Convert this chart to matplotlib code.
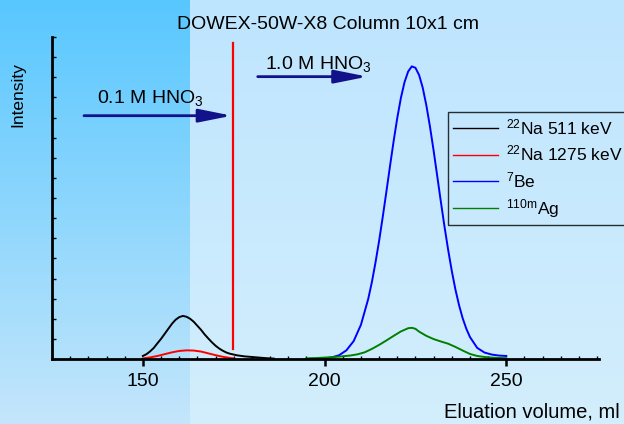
import numpy as np
import matplotlib
matplotlib.use("Agg")
import matplotlib.pyplot as plt

plt.rcParams['font.family'] = ['Liberation Sans', 'DejaVu Sans']
plt.rcParams['mathtext.fontset'] = 'custom'
plt.rcParams['mathtext.rm'] = 'Liberation Sans'
plt.rcParams['mathtext.it'] = 'Liberation Sans:italic'

# ---- data ----
na511_x = [150, 151, 152, 153, 154, 155, 156, 157, 158, 159, 160, 161, 162, 163, 164, 165,
           166, 167, 168, 169, 170, 171, 172, 173, 174, 175, 176, 178, 180, 182, 184, 186]
na511_y = [0.15, 0.24, 0.38, 0.55, 0.78, 1.0, 1.25, 1.5, 1.75, 1.95, 2.08, 2.14, 2.1, 2.0, 1.85, 1.65,
           1.45, 1.22, 1.02, 0.83, 0.66, 0.52, 0.41, 0.32, 0.26, 0.22, 0.18, 0.13, 0.1, 0.07, 0.04, 0.02]

na1275_x = [150, 152, 154, 156, 158, 160, 162, 164, 166, 168, 170, 172, 174, 175]
na1275_y = [0.03, 0.08, 0.15, 0.24, 0.33, 0.40, 0.43, 0.42, 0.37, 0.28, 0.19, 0.11, 0.05, 0.03]

be7_x = [196, 198, 200, 202, 204, 206, 208, 210, 212, 213, 214, 215, 216, 217, 218, 219, 220,
         221, 222, 223, 224, 225, 226, 227, 228, 229, 230, 231, 232, 233, 234, 235, 236, 237,
         238, 239, 240, 242, 244, 246, 248, 250]
be7_y = [0.01, 0.01, 0.03, 0.08, 0.19, 0.43, 0.89, 1.70, 2.98, 3.81, 4.79, 5.87, 7.06, 8.31, 9.59,
         10.83, 11.98, 12.98, 13.76, 14.29, 14.54, 14.47, 14.11, 13.48, 12.6, 11.54, 10.35, 9.08,
         7.8, 6.57, 5.42, 4.37, 3.45, 2.67, 2.02, 1.5, 1.09, 0.55, 0.32, 0.22, 0.17, 0.15]

ag110m_x = [195, 198, 201, 204, 207, 209, 211, 213, 215, 217, 219, 221, 223, 224, 225, 226,
            228, 230, 232, 234, 236, 238, 240, 242, 244, 246, 248, 250]
ag110m_y = [0.03, 0.05, 0.08, 0.12, 0.17, 0.23, 0.33, 0.5, 0.7, 0.92, 1.15, 1.37, 1.53, 1.55,
            1.5, 1.36, 1.15, 0.99, 0.87, 0.76, 0.6, 0.42, 0.25, 0.15, 0.1, 0.07, 0.05, 0.04]

switch_x = [174.7, 174.7]
switch_y = [0.5, 15.7]

labels = [r'$^{22}$Na 511 keV', r'$^{22}$Na 1275 keV', r'$^{7}$Be', r'$^{\mathrm{110m}}$Ag']
x_ticks = [150, 200, 250]
title = 'DOWEX-50W-X8 Column 10x1 cm'
xlabel = 'Eluation volume, ml'
ylabel = 'Intensity'

W, H = 624, 424
fig = plt.figure(figsize=(W / 100, H / 100), dpi=100)

# ---- background (slide-like) ----
bg = fig.add_axes([0, 0, 1, 1], zorder=-10)
img = np.zeros((H, W, 3))
t = np.linspace(0, 1, H)[:, None]
left_top = np.array([88, 199, 255]) / 255
left_bot = np.array([196, 230, 251]) / 255
right_top = np.array([190, 229, 255]) / 255
right_bot = np.array([211, 238, 252]) / 255
lcol = left_top * (1 - t) + left_bot * t
rcol = right_top * (1 - t) + right_bot * t
split = 190
img[:, :split, :] = lcol[:, None, :]
img[:, split:, :] = rcol[:, None, :]
bg.imshow(img, aspect='auto', extent=[0, 1, 0, 1], interpolation='bilinear')
bg.axis('off')

ax = fig.add_axes([52 / W, 1 - 359 / H, (599 - 52) / W, (359 - 37) / H])
ax.set_facecolor('none')

lw = 1.4
ax.plot(na511_x, na511_y, color='black', lw=lw, label=labels[0])
ax.plot(na1275_x, na1275_y, color='#ff0000', lw=lw, label=labels[1])
ax.plot(be7_x, be7_y, color='#0000ff', lw=lw, label=labels[2])
ax.plot(ag110m_x, ag110m_y, color='#008000', lw=lw, label=labels[3])
ax.plot(switch_x, switch_y, color='#ff0000', lw=1.6)

ax.set_xlim(125, 275.5)
ax.set_ylim(0, 16)

for s in ['top', 'right']:
    ax.spines[s].set_visible(False)
for s in ['left', 'bottom']:
    ax.spines[s].set_linewidth(2.0)

ax.set_xticks(x_ticks)
ax.set_xticklabels([str(v) for v in x_ticks], fontsize=14)
ax.set_xticks(np.arange(125, 276, 5), minor=True)
ax.tick_params(axis='x', which='major', direction='out', length=5, width=1.8, pad=5)
ax.tick_params(axis='x', which='minor', direction='in', length=2.5, width=1)
ax.set_yticks(np.arange(0, 17, 1))
ax.set_yticklabels([])
ax.tick_params(axis='y', which='major', direction='in', length=3, width=1)

# arrows & eluent labels
arrow_col = '#12128a'
ax.annotate('', xy=(174.5, 12.09), xytext=(133.8, 12.09),
            arrowprops=dict(arrowstyle='-|>,head_length=1.0,head_width=0.2',
                            color=arrow_col, lw=2.0, mutation_scale=20, shrinkA=0, shrinkB=0))
ax.annotate('', xy=(211.8, 14.03), xytext=(181.6, 14.03),
            arrowprops=dict(arrowstyle='-|>,head_length=1.0,head_width=0.2',
                            color=arrow_col, lw=2.0, mutation_scale=20, shrinkA=0, shrinkB=0))
ax.text(137.4, 12.74, r'0.1 M HNO$_3$', fontsize=14, ha='left', va='baseline')
ax.text(183.5, 14.43, r'1.0 M HNO$_3$', fontsize=14, ha='left', va='baseline')

fig.text(328 / W, 1 - 29 / H, title, fontsize=14, ha='center', va='baseline')
fig.text(620 / W, 1 - 418 / H, xlabel, fontsize=14.5, ha='right', va='baseline')
fig.text(18 / W, 1 - 95 / H, ylabel, fontsize=12.5, rotation=90, ha='center', va='center')

leg = ax.legend(loc='upper left', bbox_to_anchor=(448 / W, 1 - 112 / H),
                bbox_transform=fig.transFigure, fontsize=12.5, frameon=True,
                fancybox=False, edgecolor='black', facecolor='none',
                borderaxespad=0, handlelength=2.6, labelspacing=0.38,
                borderpad=0.3, handletextpad=0.45)
leg.get_frame().set_linewidth(1.0)
for l in leg.get_lines():
    l.set_linewidth(1.0)

fig.savefig('out.png', dpi=100)
